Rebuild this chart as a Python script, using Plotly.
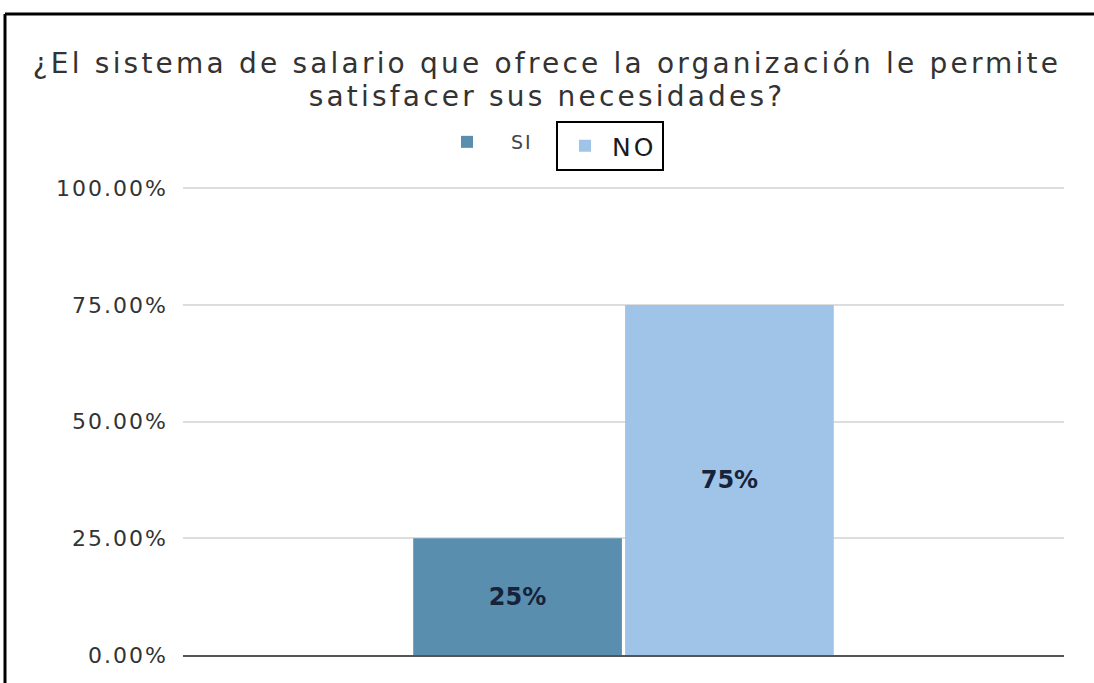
import plotly.graph_objects as go

# Survey answers and their shares
categorias = ["Salario"]
porcentajes_si = [0.25]
porcentajes_no = [0.75]
etiquetas_y = [0, 0.25, 0.5, 0.75, 1.0]
titulo = ["¿El sistema de salario que ofrece la organización le permite",
          "satisfacer sus necesidades?"]

colores = {"SI": "#5a8eaf", "NO": "#a0c4e8"}

W, H = 1094, 683
ML, MR, MT, MB = 183, 30, 187, 28


def px_x(p):
    return (p - ML) / (W - ML - MR)


def px_y(p):
    return (H - MB - p) / (H - MT - MB)


def espaciado(texto, ls, size=None):
    estilo = f"letter-spacing:{ls}px"
    if size:
        estilo += f";font-size:{size}px"
    return f"<span style='{estilo}'>{texto}</span>"


etiqueta_barra = dict(family="DejaVu Sans", size=24, color="#16233a")

fig = go.Figure()
fig.add_trace(go.Bar(
    x=categorias, y=porcentajes_si, name=espaciado("SI", 2),
    marker=dict(color=colores["SI"], line=dict(width=0)),
    texttemplate="<b>%{y:.0%}</b>", textposition="inside",
    insidetextanchor="middle", constraintext="none",
    textfont=etiqueta_barra,
    legend="legend",
))
fig.add_trace(go.Bar(
    x=categorias, y=porcentajes_no, name=espaciado("NO", 3),
    marker=dict(color=colores["NO"], line=dict(width=0)),
    texttemplate="<b>%{y:.0%}</b>", textposition="inside",
    insidetextanchor="middle", constraintext="none",
    textfont=etiqueta_barra,
    legend="legend2",
))

fig.update_layout(
    width=W, height=H,
    margin=dict(l=ML, r=MR, t=MT, b=MB),
    paper_bgcolor="white", plot_bgcolor="white",
    barmode="group", bargap=0.519, bargroupgap=0.015,
    title=dict(
        text="<br>".join(espaciado(t, 3.2, 28) for t in titulo),
        font=dict(family="DejaVu Sans", size=25, color="#333333"),
        x=0.5, xref="container", xanchor="center",
        y=1 - 73 / H, yref="container", yanchor="top",
    ),
    showlegend=True,
    legend=dict(
        x=px_x(423), y=px_y(123), xanchor="left", yanchor="top",
        font=dict(family="DejaVu Sans", size=19, color="#444444"),
        bgcolor="rgba(0,0,0,0)", borderwidth=0, itemwidth=78,
    ),
    legend2=dict(
        x=px_x(556), y=px_y(121), xanchor="left", yanchor="top",
        font=dict(family="DejaVu Sans", size=25, color="#1a1a1a"),
        bgcolor="white", bordercolor="black", borderwidth=2, itemwidth=44,
    ),
    xaxis=dict(
        showticklabels=False, showgrid=False, zeroline=False,
        showline=True, linecolor="#555555", linewidth=2, ticks="",
    ),
    yaxis=dict(
        range=[0, 1.003], tickvals=etiquetas_y,
        ticktext=[espaciado(f"{v:.2%}", 2) for v in etiquetas_y],
        showgrid=True, gridcolor="#dddddd", gridwidth=1.5,
        zeroline=False, showline=False, ticks="",
        ticklabelstandoff=14,
        tickfont=dict(family="DejaVu Sans", size=22, color="#333333"),
    ),
    shapes=[
        dict(type="line", xref="paper", yref="paper",
             x0=px_x(5), x1=px_x(W + 5), y0=px_y(14), y1=px_y(14),
             line=dict(color="black", width=3)),
        dict(type="line", xref="paper", yref="paper",
             x0=px_x(5), x1=px_x(5), y0=px_y(14), y1=px_y(H + 5),
             line=dict(color="black", width=3)),
    ],
)

fig.write_html("out.html")
